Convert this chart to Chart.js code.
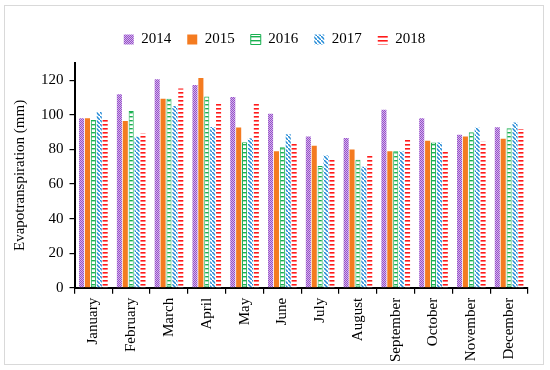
<!DOCTYPE html>
<html>
<head>
<meta charset="utf-8">
<style>
  body { margin: 0; background: #fff; }
  #wrap { position: relative; width: 550px; height: 370px; }
  #frame { position: absolute; left: 4px; top: 5px; width: 538px; height: 358px; border: 1.5px solid #d9d9d9; pointer-events: none; }
</style>
</head>
<body>
<div id="wrap">
  <canvas id="myChart" width="550" height="370"></canvas>
  <div id="frame"></div>
</div>
<script src="https://cdn.jsdelivr.net/npm/chart.js"></script>
<script>
    const meses = ['January', 'February', 'March', 'April', 'May', 'June', 'July', 'August', 'September', 'October', 'November', 'December'];
    const años = ['2014', '2015', '2016', '2017', '2018'];
    const et2014 = [98, 112, 120.6, 117.3, 110.4, 100.6, 87.5, 86.7, 102.9, 98.1, 88.5, 92.9];
    const et2015 = [98, 96.5, 109.4, 121.3, 92.7, 79, 82.1, 80, 79, 85, 87.5, 86.2];
    const et2016 = [97, 102.3, 109.4, 110.6, 84.2, 81.3, 70.4, 74, 79, 84, 90, 92.3];
    const et2017 = [101.7, 87.3, 105.2, 93, 86.5, 88.8, 76.5, 70, 78.8, 84, 92.5, 95.6];
    const et2018 = [97, 89.2, 115.2, 107.5, 107.1, 84.2, 74, 76.3, 86.7, 79, 84.4, 91.9];
    const yTicks = [0, 20, 40, 60, 80, 100, 120];

    const fuente = "'Liberation Serif', 'DejaVu Serif', serif";

    // patrones de relleno
    function patron(w, h, dibujar) {
        const c = document.createElement('canvas');
        c.width = w; c.height = h;
        const g = c.getContext('2d');
        dibujar(g);
        return document.getElementById('myChart').getContext('2d').createPattern(c, 'repeat');
    }
    const pat2014 = patron(2, 2, g => {
        g.fillStyle = '#d4b3ec'; g.fillRect(0, 0, 2, 2);
        g.fillStyle = '#9550c8'; g.fillRect(0, 0, 1, 1); g.fillRect(1, 1, 1, 1);
    });
    const pat2016 = patron(4, 4, g => {
        g.fillStyle = '#ffffff'; g.fillRect(0, 0, 4, 4);
        g.fillStyle = '#19b050'; g.fillRect(0, 0, 4, 1.4);
    });
    const pat2017 = patron(4, 4, g => {
        g.fillStyle = '#ffffff'; g.fillRect(0, 0, 4, 4);
        g.strokeStyle = '#2189d6'; g.lineWidth = 1.5;
        g.beginPath(); g.moveTo(-1, -1); g.lineTo(5, 5); g.stroke();
    });
    const pat2018 = patron(1, 4, g => {
        g.fillStyle = '#ffffff'; g.fillRect(0, 0, 1, 4);
        g.fillStyle = '#ff1a1a'; g.fillRect(0, 0, 1, 1.6);
    });

    const series = [et2014, et2015, et2016, et2017, et2018];
    const rellenos = [pat2014, '#f47b20', pat2016, pat2017, pat2018];
    const bordes = ['#9550c8', '#f47b20', '#19b050', '#2189d6', '#ff1a1a'];

    const datasets = años.map((a, i) => ({
        label: a,
        data: series[i],
        backgroundColor: rellenos[i],
        borderColor: bordes[i],
        borderWidth: i == 2 ? 1 : 0,
        borderSkipped: false,
        categoryPercentage: 0.78,
        barPercentage: 0.86
    }));

    // margen bajo la leyenda y pequeño desplazamiento horizontal
    const ajusteLeyenda = {
        id: 'ajusteLeyenda',
        beforeLayout(chart) {
            const lg = chart.legend;
            if (!lg || lg._ajustado) return;
            lg._ajustado = true;
            const fit = lg.fit;
            lg.fit = function () { fit.call(this); this.height += 6; };
            const draw = lg.draw;
            lg.draw = function () {
                const ctx = this.ctx;
                ctx.save(); ctx.translate(5, 0);
                draw.call(this);
                ctx.restore();
            };
        }
    };

    new Chart(document.getElementById('myChart'), {
        type: 'bar',
        data: { labels: meses, datasets: datasets },
        plugins: [ajusteLeyenda],
        options: {
            responsive: false,
            animation: false,
            layout: { padding: { left: 11, right: 22, top: 16, bottom: 4 } },
            plugins: {
                tooltip: { enabled: false },
                legend: {
                    position: 'top',
                    labels: {
                        boxWidth: 10, boxHeight: 10, padding: 16, color: '#000',
                        font: { family: fuente, size: 15 }
                    }
                }
            },
            scales: {
                y: {
                    min: 0, max: 130,
                    afterBuildTicks: axis => { axis.ticks = yTicks.map(v => ({ value: v })); },
                    title: { display: true, text: 'Evapotranspiration (mm)', color: '#000', font: { family: fuente, size: 15 }, padding: { top: 0, bottom: 6 } },
                    ticks: { color: '#000', padding: 6, font: { family: fuente, size: 15 } },
                    grid: { drawOnChartArea: false, tickLength: 5, color: '#000', lineWidth: 1.2 },
                    border: { color: '#000', width: 2 }
                },
                x: {
                    ticks: { color: '#000', minRotation: 90, maxRotation: 90, autoSkip: false, padding: 4, font: { family: fuente, size: 15 } },
                    grid: { offset: true, drawOnChartArea: false, tickLength: 6, color: '#000', lineWidth: 1.2 },
                    border: { color: '#000', width: 2 }
                }
            }
        }
    });
</script>
</body>
</html>
